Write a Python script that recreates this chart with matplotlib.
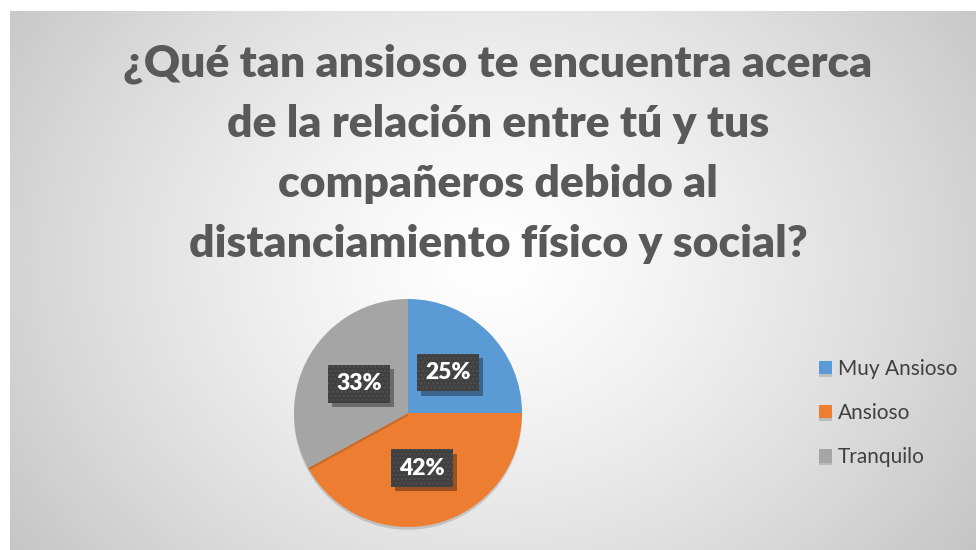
import numpy as np
import matplotlib
matplotlib.use("Agg")
import matplotlib.pyplot as plt
import matplotlib.patheffects as pe

title = "¿Qué tan ansioso te encuentra acerca\nde la relación entre tú y tus\ncompañeros debido al\ndistanciamiento físico y social?"
categories = ["Muy Ansioso", "Ansioso", "Tranquilo"]
values = [25, 42, 33]
colors = ["#5B9BD5", "#ED7D31", "#A5A5A5"]


class NoHatchShadow(pe.AbstractPathEffect):
    def __init__(self, offset=(3, -3), alpha=0.3):
        super().__init__(offset)
        self._alpha = alpha

    def draw_path(self, renderer, gc, tpath, affine, rgbFace):
        gc0 = renderer.new_gc()
        gc0.copy_properties(gc)
        gc0.set_hatch(None)
        gc0.set_linewidth(0)
        gc0.set_alpha(self._alpha)
        renderer.draw_path(gc0, tpath, affine + self._offset_transform(renderer),
                           (0, 0, 0))
        gc0.restore()


W, H = 976, 550
fig = plt.figure(figsize=(W / 100, H / 100), dpi=100)
fig.patch.set_facecolor("white")

# background radial gradient
bg = fig.add_axes([10 / W, 0, (W - 10) / W, (H - 11) / H])
bw, bh = W - 10, H - 11
yy, xx = np.mgrid[0:bh, 0:bw]
cx, cy = 480, 250
r = np.sqrt(((xx - cx) / 620) ** 2 + ((yy - cy) / 520) ** 2)
r = np.clip(r, 0, 1)
val = 1.0 - 0.24 * r ** 1.3
img = np.dstack([val, val, val])
bg.imshow(img, aspect="auto", extent=[0, bw, bh, 0], interpolation="bilinear")
bg.set_axis_off()

plt.rcParams["font.family"] = ["Lato", "DejaVu Sans"]

fig.text(498 / W, 1 - 44 / H, title, ha="center", va="top", fontsize=32,
         fontweight="heavy", color="#595959", linespacing=1.605)

cxp, cyp, R = 408, 413, 114
ax = fig.add_axes([(cxp - R) / W, (H - cyp - R) / H, 2 * R / W, 2 * R / H])
wedges, texts, autotexts = ax.pie(
    values, colors=colors, startangle=90, counterclock=False,
    autopct="%1.0f%%", pctdistance=0.5, radius=1.0,
    wedgeprops=dict(linewidth=0),
    textprops=dict(color="white", fontsize=16.5, fontweight="heavy"))
for w in wedges:
    w.set_path_effects([pe.SimplePatchShadow(offset=(0, -2), alpha=0.15, shadow_rgbFace="black"), pe.Normal()])
for t in autotexts:
    t.set_bbox(dict(boxstyle="square,pad=0.36", facecolor="#404040",
                    edgecolor="#505050", linewidth=0, hatch="...."))
    t.get_bbox_patch().set_path_effects([NoHatchShadow((3, -3), 0.35), pe.Normal()])
ax.set_xlim(-1, 1)
ax.set_ylim(-1, 1)

leg = fig.legend(wedges, categories, loc="center left",
                 bbox_to_anchor=(800 / W, 1 - 413 / H), frameon=False,
                 fontsize=15, labelcolor="#404040", handlelength=0.62,
                 handleheight=0.62, handletextpad=0.3, labelspacing=1.16)

fig.savefig("out.png", dpi=100, facecolor="white")
